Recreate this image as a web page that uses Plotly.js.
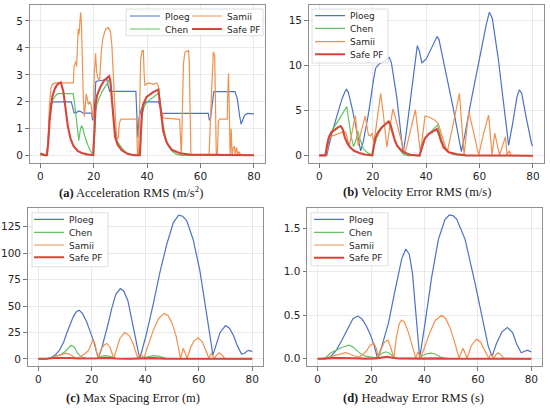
<!DOCTYPE html>
<html><head><meta charset="utf-8">
<script src="https://cdn.plot.ly/plotly-3.0.1.min.js"></script>
<style>html,body{margin:0;padding:0;background:#fff}#chart{width:550px;height:408px}</style>
</head><body><div id="chart"></div>
<script>
// ---------- DATA ----------
const seriesNames = ['Ploeg', 'Chen', 'Samii', 'Safe PF'];
const xTicks = [0, 20, 40, 60, 80];

// (a) Acceleration RMS
const accPloegT = [0, 2.5, 3, 3.5, 4, 5, 11.6, 12.1, 12.7, 13.5, 14.5, 15.5, 16, 19.2, 19.6, 20.2, 20.8, 22, 25, 25.4, 26, 35.8, 36.1, 36.5, 37, 37.6, 38.5, 39.5, 44.3, 44.8, 45.5, 62.9, 63.3, 63.7, 64.3, 65, 72.9, 73.8, 74.6, 75.2, 75.7, 76.5, 77.5, 80];
const accPloegV = [0.05, 0.05, 0.6, 1.6, 1.95, 2.0, 2.0, 1.8, 1.58, 1.6, 1.66, 1.62, 1.58, 1.58, 1.31, 1.6, 2.75, 2.78, 2.82, 2.6, 2.39, 2.39, 1.6, 0.68, 1.4, 1.65, 1.9, 2.0, 2.0, 1.8, 1.57, 1.57, 1.33, 1.35, 1.9, 2.38, 2.38, 2.1, 1.5, 1.17, 1.3, 1.5, 1.57, 1.55];
const accChenT = [0, 2.6, 3, 3.5, 4.3, 5.5, 6.5, 12.3, 12.9, 13.5, 14, 14.4, 14.9, 15.4, 16, 16.6, 17.9, 19.1, 20, 20.3, 20.8, 21.5, 23, 24.5, 25.5, 26.1, 26.5, 27, 27.6, 28.6, 30, 31.1, 33, 37.3, 37.7, 38.3, 39, 40, 42, 44, 44.5, 45, 46, 47, 48, 49.5, 51, 53, 80];
const accChenV = [0.02, 0.02, 0.6, 1.5, 2.0, 2.2, 2.3, 2.3, 1.9, 1.3, 0.9, 0.56, 0.9, 1.12, 1.0, 0.75, 0.37, 0.12, 0.05, 0.8, 1.7, 2.0, 2.35, 2.6, 2.78, 2.85, 2.6, 1.9, 1.2, 0.56, 0.35, 0.22, 0.04, 0.02, 0.8, 1.6, 1.85, 2.0, 2.15, 2.3, 2.25, 1.85, 1.15, 0.62, 0.35, 0.15, 0.05, 0.01, 0.01];
const accSamiiT = [0, 2.5, 3, 3.5, 4, 4.5, 5.5, 12.4, 12.6, 13, 13.3, 13.6, 13.9, 14.2, 14.5, 14.8, 15.1, 15.4, 15.6, 15.8, 16.1, 16.5, 16.8, 17.2, 17.6, 18, 18.5, 19, 19.5, 19.8, 20.2, 20.7, 21.1, 21.5, 22, 22.3, 22.8, 23.5, 24.5, 25.5, 26.3, 26.8, 27.2, 27.6, 28, 28.4, 28.8, 29.2, 29.6, 30.2, 36, 36.2, 36.4, 36.8, 37.2, 37.6, 38.2, 38.6, 38.9, 39.2, 39.6, 40.5, 42.5, 43.5, 44.2, 44.6, 45, 45.3, 45.6, 46, 52.2, 52.5, 52.8, 53.2, 53.6, 54.2, 55.5, 55.8, 56.1, 56.4, 63.2, 63.6, 64.2, 64.8, 65.3, 65.6, 65.9, 66.3, 66.7, 67.2, 70, 70.2, 70.5, 70.8, 71.1, 71.5, 71.8, 72.3, 72.7, 73, 73.5, 73.9, 74.5, 75, 80];
const accSamiiV = [0.05, 0.02, 0.8, 2.0, 2.5, 2.65, 2.7, 2.7, 3.3, 3.4, 3.5, 3.3, 4.4, 4.7, 4.5, 5.0, 5.32, 4.9, 3.9, 3.0, 2.2, 1.45, 1.9, 2.3, 2.1, 1.9, 2.0, 1.9, 1.5, 1.4, 3.0, 3.8, 3.1, 2.9, 2.8, 2.9, 3.8, 4.4, 4.7, 4.75, 4.6, 4.1, 3.3, 2.4, 1.5, 0.9, 0.6, 0.7, 1.2, 1.36, 1.36, 0.3, 0.02, 0.02, 2.0, 3.6, 3.9, 3.9, 3.0, 2.6, 2.65, 2.7, 2.65, 2.7, 2.6, 2.2, 1.6, 1.45, 1.6, 1.4, 1.35, 0.5, 0.02, 1.5, 3.4, 3.85, 3.9, 3.5, 1.5, 0.02, 0.02, 1.3, 2.5, 3.85, 3.7, 2.0, 0.02, 0.02, 1.3, 1.36, 1.36, 2.3, 3.05, 1.5, 0.02, 1.0, 0.05, 0.3, 0.35, 0.05, 0.3, 0.05, 0.15, 0.02, 0.02];
const accSafeT = [0, 1, 1.8, 2.5, 3, 3.5, 4, 4.5, 5.5, 6.5, 7.7, 8.6, 9.4, 10.3, 11.4, 12.5, 14, 15.5, 17.5, 19.8, 20.3, 20.7, 21.3, 22.5, 24, 25.8, 26.2, 26.8, 27.4, 28, 29, 30.5, 32.5, 35, 37.3, 37.6, 38, 38.6, 39.8, 42.3, 44.2, 45, 46, 47.3, 49.2, 52.3, 56, 80];
const accSafeV = [0.08, 0.05, 0.01, 0.02, 0.5, 1.3, 1.9, 2.2, 2.5, 2.65, 2.72, 2.4, 1.8, 1.1, 0.6, 0.35, 0.18, 0.1, 0.05, 0.02, 1.0, 1.9, 2.25, 2.55, 2.8, 2.95, 2.8, 2.0, 1.2, 0.7, 0.4, 0.2, 0.08, 0.02, 0.02, 0.8, 1.5, 1.93, 2.18, 2.36, 2.45, 1.8, 0.93, 0.5, 0.22, 0.09, 0.04, 0.02];

// (b) Velocity Error RMS
const velPloegT = [0, 2.8, 3.5, 5, 7, 8.5, 9.6, 10.2, 10.9, 12.5, 14.5, 15.5, 16.5, 18.5, 20.3, 21.1, 22.5, 24.5, 26.2, 27, 29, 31.4, 32.5, 34.5, 36.1, 36.7, 37.5, 38.4, 40, 42, 43.5, 44.1, 44.8, 47, 50, 53.2, 54.5, 57, 60, 62.5, 63.7, 64.8, 67, 69.5, 70.9, 72.3, 74, 74.9, 75.8, 77.5, 79.6, 80];
const velPloegV = [0.05, 0.05, 1.0, 2.8, 4.8, 6.3, 7.1, 7.35, 7.0, 5.0, 2.0, 0.55, 1.6, 4.8, 8.4, 9.7, 10.2, 10.5, 10.9, 10.3, 6.5, 0.3, 2.4, 7.3, 11.2, 12.2, 11.6, 10.3, 10.7, 11.9, 12.9, 13.2, 12.9, 9.9, 5.5, 0.45, 2.3, 6.3, 10.8, 14.5, 15.9, 15.2, 10.8, 4.4, 1.15, 3.4, 6.5, 7.3, 6.9, 4.2, 1.2, 1.1];
const velChenT = [0, 2.5, 3, 4, 5, 7, 9, 10.3, 10.8, 11.8, 12.8, 13.6, 14.5, 15.2, 16.5, 18, 19.5, 20, 20.5, 21.5, 23, 24.5, 25.7, 26.5, 27.5, 28.5, 29.5, 30.5, 31.5, 33, 37.8, 38.3, 39, 40.5, 42, 43.5, 44.3, 45, 46, 47, 48.5, 50, 53, 80];
const velChenV = [0.05, 0.05, 1.0, 2.3, 2.9, 3.9, 4.9, 5.45, 4.4, 2.4, 1.0, 1.6, 2.7, 1.9, 0.8, 0.35, 0.12, 0.05, 1.0, 2.0, 2.9, 3.5, 3.85, 3.3, 2.3, 1.5, 0.9, 0.45, 0.15, 0.02, 0.02, 0.8, 1.6, 2.3, 2.8, 3.2, 3.4, 2.7, 1.6, 0.9, 0.4, 0.15, 0.03, 0.01];
const velSamiiT = [0, 2.5, 3, 3.6, 4.5, 6, 8, 9.5, 10, 11.2, 12.2, 13.5, 14.6, 15.5, 17.2, 18.4, 19.2, 19.7, 20.5, 21.2, 22, 23, 24, 25.3, 26.3, 27.6, 28.7, 30.3, 32, 34, 36, 37.9, 39.6, 41, 43, 44.5, 46.3, 47.9, 50.2, 52.5, 54.2, 56, 57.8, 59.7, 61.5, 63.4, 64.7, 65.7, 67.5, 69.7, 70.3, 71.2, 71.8, 80];
const velSamiiV = [0.02, 0.02, 0.6, 1.9, 2.15, 2.35, 2.55, 2.7, 2.5, 1.05, 2.6, 4.45, 1.1, 2.5, 4.4, 2.3, 2.2, 2.5, 1.5, 3.2, 4.7, 6.9, 4.6, 0.95, 3.0, 5.2, 4.0, 2.1, 0.15, 2.6, 5.1, 0.3, 4.4, 4.3, 4.0, 3.6, 1.9, 0.4, 3.6, 6.9, 0.1, 4.9, 2.6, 0.08, 2.4, 4.5, 0.1, 2.5, 0.08, 2.1, 0.1, 0.55, 0.05, 0.02];
const velSafeT = [0, 2.3, 2.8, 3.5, 4.5, 6, 7, 8, 8.7, 9.5, 10.5, 11.5, 13, 15, 17, 19.8, 20.2, 21, 22, 23.5, 25, 26, 26.5, 27.3, 28.3, 29.2, 30.8, 32.3, 34, 37.5, 38, 38.6, 39.5, 41, 43, 44, 44.7, 45.5, 46.6, 48.5, 51.6, 55, 80];
const velSafeV = [0.05, 0.05, 1.0, 2.0, 2.6, 2.95, 3.15, 3.3, 3.0, 2.1, 1.4, 0.95, 0.55, 0.3, 0.15, 0.05, 0.8, 2.0, 2.6, 3.2, 3.55, 3.8, 3.6, 2.6, 1.7, 1.1, 0.6, 0.3, 0.12, 0.02, 0.5, 1.3, 1.9, 2.4, 2.8, 2.95, 2.5, 1.7, 0.9, 0.4, 0.17, 0.05, 0.01];

// (c) Max Spacing Error
const spcPloegT = [0, 3.5, 5, 6.5, 8, 9.5, 10.6, 12, 13.1, 14.2, 15.3, 16.5, 18, 19.5, 20.6, 21.6, 22.5, 23.5, 24.5, 26, 27.5, 29, 30.7, 32, 33.5, 35, 36.5, 37.5, 38, 39, 40.5, 43, 45.5, 48, 50.5, 52.5, 54, 55.5, 57.9, 60.4, 62.9, 64.2, 65.3, 66.5, 68, 70, 71.5, 73, 74.5, 76, 77, 78.5, 80];
const spcPloegV = [0, 0, 1.5, 4, 8.5, 16, 24, 33, 40, 44.5, 46, 43, 35.5, 25, 17.5, 8, 1, 8, 17, 32, 48, 61, 66.5, 64, 55, 38, 18, 5, 0.5, 10, 24, 52, 82, 108, 129, 136, 135, 131, 113, 84, 46, 22, 3.5, 14, 25, 31.5, 29, 22, 12, 4.5, 5, 8, 7];
const spcChenT = [0, 2.5, 4, 5.5, 7, 8.5, 10, 11, 12.3, 13.5, 14.5, 15.5, 16.5, 18, 19.5, 21.5, 22.5, 23.5, 25, 26.5, 28, 29.5, 38, 39.5, 41, 43, 45, 46.5, 48, 80];
const spcChenV = [0, 0, 0.8, 2, 3, 4, 7, 10, 12.8, 11, 6, 3, 1.5, 0.5, 0.1, 0.2, 1, 2.3, 3, 2.7, 1.2, 0.2, 0.2, 1.2, 2.3, 3, 2.5, 1.2, 0.2, 0];
const spcSamiiT = [0, 3, 5, 7, 9, 10.3, 11.5, 13, 14, 15.5, 17, 18, 18.8, 19.5, 20.4, 21.2, 22.3, 23.5, 24.5, 25.7, 26.8, 28.2, 29.5, 30.5, 32.3, 34, 35.5, 37.2, 38.3, 39.5, 41, 43, 45, 47, 48.5, 50, 51.5, 53.2, 54.2, 55.7, 57, 58.3, 59.8, 61.3, 62.5, 63.8, 64.7, 65.9, 66.5, 67.6, 68.8, 69.8, 80];
const spcSamiiV = [0, 0, 1, 2.5, 4.5, 5.3, 4.5, 2, 0.8, 1.5, 4, 6, 8, 13, 17.8, 14, 0.5, 9, 13, 14.5, 11, 0.5, 11, 19, 25, 22, 14, 0.5, 5, 0.5, 12, 27, 38, 43, 41, 34, 22, 0.5, 10, 0.5, 11, 17, 19.8, 16, 9, 0.5, 5, 0.5, 3, 5.7, 3.5, 0.2, 0];
const spcSafeT = [0, 3, 6, 9, 12, 15, 20, 23, 26, 29, 34, 39, 43, 47, 52, 80];
const spcSafeV = [0, 0, 0.8, 1.0, 0.8, 0.3, 0.1, 0.6, 0.9, 0.3, 0.05, 0.4, 0.7, 0.2, 0.05, 0];

// (d) Headway Error RMS
const hwyPloegT = [0, 3, 5, 7, 9, 11.5, 13.2, 15, 16.5, 18, 19.7, 21, 22.4, 24, 26.5, 29, 31.5, 33, 34.3, 35.5, 36.5, 37.4, 38.2, 40.2, 42.7, 45.2, 47.7, 49.3, 50.8, 52.1, 55.2, 58.9, 61.4, 63.9, 65.3, 67, 69, 71, 73, 74.5, 76.2, 77.5, 78.5, 80];
const hwyPloegV = [0, 0, 0.03, 0.1, 0.21, 0.37, 0.46, 0.49, 0.46, 0.39, 0.28, 0.17, 0.01, 0.14, 0.41, 0.79, 1.15, 1.26, 1.2, 0.98, 0.65, 0.3, 0.01, 0.41, 0.94, 1.37, 1.6, 1.65, 1.64, 1.6, 1.37, 0.87, 0.5, 0.14, 0.03, 0.18, 0.31, 0.36, 0.3, 0.17, 0.07, 0.09, 0.1, 0.08];
const hwyChenT = [0, 2.5, 3.5, 5, 7, 9, 11.6, 13, 14.5, 16, 18, 20, 21.5, 23, 24.5, 25.7, 27, 28.5, 30, 38, 39.5, 41, 42.5, 44, 46, 47.5, 80];
const hwyChenV = [0, 0, 0.03, 0.07, 0.1, 0.13, 0.157, 0.14, 0.1, 0.06, 0.03, 0.015, 0.01, 0.04, 0.07, 0.08, 0.06, 0.02, 0.005, 0.005, 0.04, 0.06, 0.065, 0.055, 0.02, 0.005, 0];
const hwySamiiT = [0, 3, 5, 7.5, 9, 10.5, 12, 13.5, 15.5, 17, 18.5, 19.5, 21, 22, 22.7, 24, 25, 26.3, 27.5, 28.5, 29.5, 30.5, 31.4, 32.5, 34, 35.5, 36.7, 37.6, 38.5, 40, 42, 44, 46.4, 48, 49.5, 51, 52.9, 54.4, 56, 57.5, 59.5, 61, 62.5, 64, 64.8, 66, 66.8, 67.6, 68.8, 69.8, 80];
const hwySamiiV = [0, 0, 0.025, 0.045, 0.06, 0.07, 0.055, 0.035, 0.02, 0.05, 0.1, 0.15, 0.18, 0.12, 0.01, 0.13, 0.19, 0.215, 0.12, 0.01, 0.25, 0.4, 0.445, 0.42, 0.3, 0.15, 0.01, 0.08, 0.01, 0.13, 0.3, 0.44, 0.5, 0.46, 0.36, 0.22, 0.01, 0.12, 0.01, 0.15, 0.225, 0.19, 0.1, 0.01, 0.05, 0.01, 0.05, 0.07, 0.04, 0.005, 0];
const hwySafeT = [0, 3, 6, 9, 12, 18, 22, 24.5, 26, 27.5, 30, 38, 42, 45, 50, 80];
const hwySafeV = [0, 0, 0.008, 0.01, 0.006, 0.002, 0.005, 0.018, 0.023, 0.015, 0.003, 0.002, 0.008, 0.005, 0.001, 0];

// ---------- STYLE / LAYOUT ----------
const W = 550, H = 408;
const colors = ['#4c72c4', '#62c462', '#f0914f', '#d8453a'];
const widths = [1.2, 1.2, 1.2, 2.1];
const panels = [
  {sfx: '', T: [accPloegT, accChenT, accSamiiT, accSafeT], V: [accPloegV, accChenV, accSamiiV, accSafeV],
   box: [29.6, 264.6, 5, 163], yr: [-0.27, 5.59], dtick: 1, fmt: '',
   cap: '<b>(a)</b> Acceleration RMS (m/s<sup>2</sup>)', capX: 131, capY: 192,
   leg: [[130, 16], [130, 29], [192, 16], [192, 29]], lbox: [126, 263, 9, 35.7]},
  {sfx: '2', T: [velPloegT, velChenT, velSamiiT, velSafeT], V: [velPloegV, velChenV, velSamiiV, velSafeV],
   box: [308.6, 543.6, 5, 163], yr: [-0.8, 16.7], dtick: 5, fmt: '',
   cap: '<b>(b)</b> Velocity Error RMS (m/s)', capX: 417.5, capY: 192,
   leg: [[315, 15.7], [315, 28.3], [315, 41.7], [315, 54.3]], lbox: [312, 388, 9, 63]},
  {sfx: '3', T: [spcPloegT, spcChenT, spcSamiiT, spcSafeT], V: [spcPloegV, spcChenV, spcSamiiV, spcSafeV],
   box: [27.6, 262.9, 208, 366], yr: [-6.8, 142.8], dtick: 25, fmt: '',
   cap: '<b>(c)</b> Max Spacing Error (m)', capX: 133, capY: 398,
   leg: [[34, 219.3], [34, 232.3], [34, 245], [34, 257.3]], lbox: [32, 108, 212.7, 266.7]},
  {sfx: '4', T: [hwyPloegT, hwyChenT, hwySamiiT, hwySafeT], V: [hwyPloegV, hwyChenV, hwySamiiV, hwySafeV],
   box: [307, 542, 208, 366], yr: [-0.0825, 1.73], dtick: 0.5, fmt: '.1f',
   cap: '<b>(d)</b> Headway Error RMS (s)', capX: 413, capY: 398,
   leg: [[314, 219.3], [314, 232.3], [314, 245], [314, 257.7]], lbox: [311, 388, 212.7, 265.7]}
];

const traces = [];
const layout = {
  width: W, height: H, margin: {l: 0, r: 0, t: 0, b: 0}, showlegend: true,
  paper_bgcolor: '#fff', plot_bgcolor: '#fff', shapes: [], annotations: [],
  font: {family: 'DejaVu Sans', size: 10.5, color: '#262626'}
};
const axisBase = {
  showline: true, mirror: true, linecolor: '#8f8f8f', linewidth: 1,
  showgrid: true, gridcolor: '#e3e3e3', gridwidth: 0.8, zeroline: false,
  ticks: 'outside', ticklen: 3.5, tickwidth: 0.8, tickcolor: '#555',
  tickfont: {family: 'DejaVu Sans', size: 10.5, color: '#262626'}
};
let legIdx = 0;
panels.forEach((p, pi) => {
  const xa = 'xaxis' + p.sfx, ya = 'yaxis' + p.sfx;
  layout[xa] = Object.assign({}, axisBase, {
    domain: [p.box[0] / W, p.box[1] / W], range: [-4, 84], tickvals: xTicks,
    anchor: 'y' + p.sfx
  });
  layout[ya] = Object.assign({}, axisBase, {
    domain: [1 - p.box[3] / H, 1 - p.box[2] / H], range: p.yr, dtick: p.dtick, tick0: 0,
    tickformat: p.fmt, anchor: 'x' + p.sfx
  });
  layout.shapes.push({
    type: 'rect', xref: 'paper', yref: 'paper', layer: 'above',
    x0: p.lbox[0] / W, x1: p.lbox[1] / W, y0: 1 - p.lbox[3] / H, y1: 1 - p.lbox[2] / H,
    line: {color: '#d6d6d6', width: 0.8}, fillcolor: 'rgba(255,255,255,0.8)'
  });
  layout.annotations.push({
    xref: 'paper', yref: 'paper', x: p.capX / W, y: 1 - p.capY / H, xanchor: 'center', yanchor: 'middle',
    showarrow: false, text: p.cap, font: {family: 'Liberation Serif', size: 12.5, color: '#1a1a1a'}
  });
  seriesNames.forEach((name, si) => {
    legIdx++;
    const lid = legIdx === 1 ? 'legend' : 'legend' + legIdx;
    layout[lid] = {
      visible: true,
      x: (p.leg[si][0] - 5) / W, xanchor: 'left', y: 1 - p.leg[si][1] / H, yanchor: 'middle',
      bgcolor: 'rgba(0,0,0,0)', borderwidth: 0, itemwidth: 30,
      font: {family: 'DejaVu Sans', size: 9, color: '#262626'}
    };
    traces.push({
      type: 'scatter', mode: 'lines', name: name, x: p.T[si], y: p.V[si],
      xaxis: 'x' + p.sfx, yaxis: 'y' + p.sfx, legend: lid, showlegend: true,
      line: {color: colors[si], width: widths[si]}
    });
  });
});
Plotly.newPlot('chart', traces, layout, {staticPlot: true, displayModeBar: false});
</script>
</body></html>
